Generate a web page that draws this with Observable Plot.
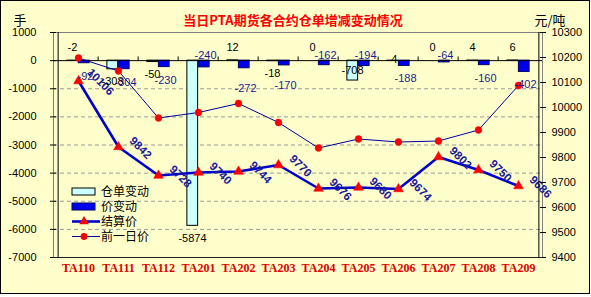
<!DOCTYPE html>
<html>
<head>
<meta charset="utf-8">
<script src="https://cdn.jsdelivr.net/npm/d3@7"></script>
<script src="https://cdn.jsdelivr.net/npm/@observablehq/plot@0.6"></script>
<style>
  html, body { margin: 0; padding: 0; background: #ffffff; }
  #chart svg { display: block; }
</style>
</head>
<body>
<div id="chart"></div>
<script>
// ---- data ----
const categories = ["TA110","TA111","TA112","TA201","TA202","TA203","TA204","TA205","TA206","TA207","TA208","TA209"];
const warrantChange = [-2, -308, -50, -5874, 12, -18, 0, -708, -4, 0, 4, 6];        // 仓单变动 (手)
const priceChange   = [-92, -304, -230, -240, -272, -170, -162, -194, -188, -64, -160, -402]; // 价变动
const settlePrice   = [10106, 9842, 9728, 9740, 9744, 9770, 9676, 9680, 9674, 9802, 9750, 9686]; // 结算价
const prevPrice     = [10198, 10146, 9958, 9980, 10016, 9940, 9838, 9874, 9862, 9866, 9910, 10088]; // 前一日价
const leftTicks  = [1000, 0, -1000, -2000, -3000, -4000, -5000, -6000, -7000];
const rightTicks = [9400, 9500, 9600, 9700, 9800, 9900, 10000, 10100, 10200, 10300];
const gridTicks  = [-1000, -2000, -3000, -4000, -5000, -6000];

// ---- dual-axis mapping (right axis values onto left axis units) ----
const L0 = -7000, L1 = 1000, R0 = 9400, R1 = 10300;
const conv = p => L0 + (p - R0) * (L1 - L0) / (R1 - R0);
const inv  = v => R0 + (v - L0) * (R1 - R0) / (L1 - L0);

const rows = categories.map((c, i) => ({
  cat: c, w: warrantChange[i], pc: priceChange[i],
  s: settlePrice[i], p: prevPrice[i]
}));

const W = 591, H = 297;
const mL = 53, mR = 49, mT = 32, mB = 40;
const bw = (W - mL - mR) / categories.length;
const barW = 11.5;
const bg = "#ffffcc";
const sans = "Liberation Sans, Arial, sans-serif";
const cjk = "Noto Sans CJK SC, sans-serif";

// label placement rules
const priceAbove = new Set(["TA201","TA204","TA205","TA207"]);
const priceLower = new Set(["TA202","TA203"]);
const wInside = new Set(["TA205"]);
const wOnZero = new Set(["TA206"]);
const wBelow = d => d.w < -10 && !wInside.has(d.cat);
const wAbove = d => d.w >= -10 && !wOnZero.has(d.cat);
const pBelow = d => !priceAbove.has(d.cat) && !priceLower.has(d.cat);

const wText = (filter, y, dy) => Plot.text(rows, {filter, x: "cat", y, text: d => String(d.w),
  dx: -6, dy, fontSize: 11, fill: "#000", fontFamily: sans});
const pText = (filter, y, dy) => Plot.text(rows, {filter, x: "cat", y, text: d => String(d.pc),
  dx: 7, dy, fontSize: 11, fill: "#1a1a8c", fontFamily: sans});

const plot = Plot.plot({
  width: W, height: H,
  marginLeft: mL, marginRight: mR, marginTop: mT, marginBottom: mB,
  style: {background: "transparent", fontFamily: sans, fontSize: "11px", color: "#000"},
  x: {type: "band", domain: categories, padding: 0, axis: null},
  y: {domain: [L0, L1], axis: null},
  marks: [
    Plot.frame({stroke: "#808080"}),
    Plot.ruleY(gridTicks, {stroke: "#9a9a9a", strokeDasharray: "4 3"}),
    // bars
    Plot.barY(rows, {x: "cat", y: "w", fill: "#ccffff", stroke: "#000", strokeWidth: 1,
      insetLeft: bw / 2 - barW, insetRight: bw / 2}),
    Plot.barY(rows, {x: "cat", y: "pc", fill: "#0000ee", stroke: "#000070", strokeWidth: 1,
      insetLeft: bw / 2, insetRight: bw / 2 - barW}),
    // zero line with category ticks
    Plot.ruleY([0], {stroke: "#000"}),
    Plot.ruleX(categories.slice(1), {x: d => d, y1: 0, y2: 130, dx: -bw / 2, stroke: "#000"}),
    // lines
    Plot.line(rows, {x: "cat", y: d => conv(d.p), stroke: "#0000a0", strokeWidth: 1}),
    Plot.line(rows, {x: "cat", y: d => conv(d.s), stroke: "#0000cc", strokeWidth: 2.6}),
    Plot.dot(rows, {x: "cat", y: d => conv(d.p), r: 3.4, fill: "#ff0000", stroke: "#ee0000", strokeWidth: 0.5}),
    Plot.dot(rows, {x: "cat", y: d => conv(d.s), symbol: "triangle", r: 3.6, fill: "#ff0000", stroke: "#ee0000", strokeWidth: 0.5}),
    // settlement labels
    Plot.text(rows, {x: "cat", y: d => conv(d.s), text: d => String(d.s), rotate: 45, dx: 22, dy: 1,
      fontWeight: "bold", fontSize: 11.5, fill: "#1a1a9a", fontFamily: sans}),
    // warrant labels
    wText(wBelow, "w", 12.5),
    wText(wAbove, () => 0, -13),
    wText(d => wInside.has(d.cat), "w", -10),
    wText(d => wOnZero.has(d.cat), () => 0, -1),
    // price change labels
    pText(pBelow, "pc", 13),
    pText(d => priceLower.has(d.cat), "pc", 20),
    pText(d => priceAbove.has(d.cat), () => 0, -5),
    // axes
    Plot.axisY(leftTicks, {anchor: "left", tickSize: 6, dx: 3, tickFormat: () => "", stroke: "#000"}),
    Plot.axisY(leftTicks, {anchor: "left", tickSize: 0, tickPadding: 17, fontSize: 11, fontFamily: sans,
      tickFormat: v => String(v)}),
    Plot.axisY(rightTicks.map(conv), {anchor: "right", tickSize: 6, dx: -3, tickFormat: () => "", stroke: "#000"}),
    Plot.axisY(rightTicks.map(conv), {anchor: "right", tickSize: 0, tickPadding: 9, fontSize: 11, fontFamily: sans,
      tickFormat: v => String(Math.round(inv(v)))}),
    Plot.ruleX([categories[0]], {x: d => d, dx: -bw / 2, stroke: "#000"}),
    Plot.ruleX([categories[categories.length - 1]], {x: d => d, dx: bw / 2, stroke: "#000"}),
    Plot.ruleY([L0], {stroke: "#202020"}),
    // x labels
    Plot.text(categories, {x: d => d, text: d => d, frameAnchor: "bottom", dy: 14,
      fontWeight: "bold", fontSize: 12, fill: "#e00000", fontFamily: "Liberation Serif, serif"}),
    // title and axis titles
    Plot.text(["当日PTA期货各合约仓单增减变动情况"], {frameAnchor: "top", dy: -17, dx: -5,
      fontWeight: "bold", fontSize: 13, fill: "#ff0000", fontFamily: cjk}),
    Plot.text(["手"], {frameAnchor: "top-left", dx: -40, dy: -17, fontSize: 13, fill: "#000", fontFamily: cjk}),
    Plot.text(["元/吨"], {frameAnchor: "top-right", dx: 23, dy: -17, fontSize: 13, fill: "#000", fontFamily: cjk})
  ]
});

document.getElementById("chart").appendChild(plot);

const svg = d3.select(plot);
// background + outer border
svg.insert("rect", ":first-child")
  .attr("x", 0.5).attr("y", 0.5).attr("width", 589).attr("height", 293)
  .attr("fill", bg).attr("stroke", "#000").attr("stroke-width", 1);

// legend
const lg = svg.append("g").attr("font-family", cjk).attr("font-size", 12).attr("text-anchor", "start");
const lx = 72, ly = [191.5, 206.5, 221.5, 236.5];
lg.append("rect").attr("x", lx).attr("y", ly[0] - 3.5).attr("width", 23).attr("height", 7)
  .attr("fill", "#ccffff").attr("stroke", "#000");
lg.append("rect").attr("x", lx).attr("y", ly[1] - 3.5).attr("width", 23).attr("height", 7)
  .attr("fill", "#0000ee").attr("stroke", "#000070");
lg.append("line").attr("x1", lx).attr("x2", lx + 28).attr("y1", ly[2]).attr("y2", ly[2])
  .attr("stroke", "#0000cc").attr("stroke-width", 2.6);
lg.append("path").attr("d", d3.symbol(d3.symbolTriangle, 40)()).attr("transform", `translate(${lx + 12},${ly[2]})`)
  .attr("fill", "#ff0000");
lg.append("line").attr("x1", lx).attr("x2", lx + 28).attr("y1", ly[3]).attr("y2", ly[3])
  .attr("stroke", "#0000a0").attr("stroke-width", 1);
lg.append("circle").attr("cx", lx + 12).attr("cy", ly[3]).attr("r", 3.4).attr("fill", "#ff0000");
["仓单变动", "价变动", "结算价", "前一日价"].forEach((t, i) => {
  lg.append("text").attr("x", lx + 29).attr("y", ly[i]).attr("dy", "0.36em").attr("fill", "#000").text(t);
});
</script>
</body>
</html>
